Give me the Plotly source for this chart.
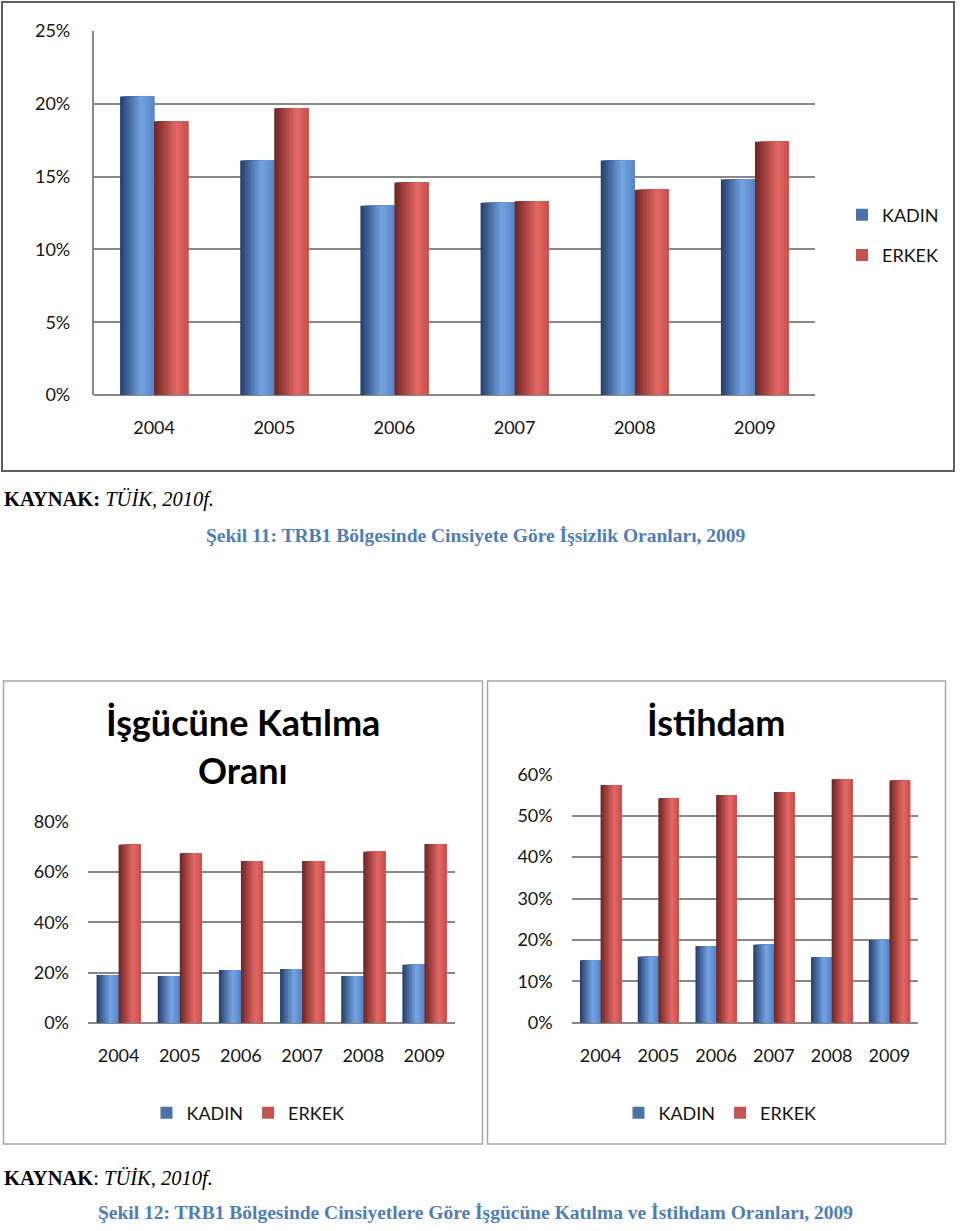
import plotly.graph_objects as go

# ---------------- data ----------------
years = ["2004", "2005", "2006", "2007", "2008", "2009"]

# Şekil 11: İşsizlik oranları (%)
issizlik_kadin = [20.5, 16.1, 13.0, 13.2, 16.1, 14.8]
issizlik_erkek = [18.8, 19.7, 14.6, 13.3, 14.1, 17.4]

# Şekil 12: İşgücüne katılma oranı (%)
katilma_kadin = [19.1, 18.7, 21.1, 21.5, 18.7, 23.1]
katilma_erkek = [70.8, 67.5, 64.4, 64.4, 68.1, 71.1]

# Şekil 12: İstihdam oranı (%)
istihdam_kadin = [15.1, 15.9, 18.5, 18.8, 15.8, 20.0]
istihdam_erkek = [57.4, 54.2, 55.0, 55.7, 58.8, 58.5]

top_ticks = [0, 5, 10, 15, 20, 25]
katilma_ticks = [0, 20, 40, 60, 80]
istihdam_ticks = [0, 10, 20, 30, 40, 50, 60]

# ---------------- style helpers ----------------
W, H = 960, 1231


def px(x):
    return x / W


def py(y):
    return 1 - y / H


BLUE_STOPS = [(0.0, (34, 60, 106)), (0.62, (116, 164, 228)), (1.0, (86, 132, 198))]
RED_STOPS = [(0.0, (110, 36, 34)), (0.66, (230, 104, 102)), (1.0, (196, 80, 78))]


def shade(stops, t):
    for (t0, c0), (t1, c1) in zip(stops[:-1], stops[1:]):
        if t0 <= t <= t1:
            f = (t - t0) / (t1 - t0)
            c = [round(a + (b - a) * f) for a, b in zip(c0, c1)]
            return "rgb(%d,%d,%d)" % tuple(c)
    c = stops[-1][1]
    return "rgb(%d,%d,%d)" % c


FONT = "Lato"
TXT = "#141414"
GRID = "#888888"

fig = go.Figure()


def add_series(values, name, stops, xa, ya, legend, off0, bw, legend_t, n=14):
    legend_i = min(range(n), key=lambda i: abs((i + 0.5) / n - legend_t))
    for i in range(n):
        t = (i + 0.5) / n
        fig.add_trace(
            go.Bar(
                x=years,
                y=values,
                name=name,
                xaxis=xa,
                yaxis=ya,
                offset=off0 + i * bw / n,
                width=bw - i * bw / n,
                marker=dict(color=shade(stops, t), line=dict(width=0)),
                showlegend=(i == legend_i),
                legend=legend,
                legendgroup=name + legend,
                hoverinfo="x+y+name" if i == legend_i else "skip",
            )
        )


# chart 1 (top)
bw1 = 0.283
add_series(issizlik_kadin, "KADIN", BLUE_STOPS, "x", "y", "legend", -bw1, bw1, 0.3)
add_series(issizlik_erkek, "ERKEK", RED_STOPS, "x", "y", "legend", 0.0, bw1, 0.5)

# chart 2 (bottom-left)
bw2 = 0.36
add_series(katilma_kadin, "KADIN", BLUE_STOPS, "x2", "y2", "legend2", -bw2, bw2, 0.3)
add_series(katilma_erkek, "ERKEK", RED_STOPS, "x2", "y2", "legend2", 0.0, bw2, 0.5)

# chart 3 (bottom-right)
bw3 = 0.357
add_series(istihdam_kadin, "KADIN", BLUE_STOPS, "x3", "y3", "legend3", -bw3, bw3, 0.3)
add_series(istihdam_erkek, "ERKEK", RED_STOPS, "x3", "y3", "legend3", 0.0, bw3, 0.5)


def xaxis_style(dom, anchor):
    return dict(
        domain=dom,
        anchor=anchor,
        type="category",
        range=[-0.5, 5.5],
        showgrid=False,
        showline=False,
        ticks="",
        tickfont=dict(family=FONT, size=18, color=TXT),
        ticklabelstandoff=20,
        automargin=False,
        fixedrange=True,
    )


def yaxis_style(dom, anchor, rng, tickvals, gw, showline=False):
    return dict(
        domain=dom,
        anchor=anchor,
        range=rng,
        tickvals=tickvals,
        ticktext=["%d%%" % v for v in tickvals],
        showgrid=True,
        gridcolor=GRID,
        gridwidth=gw,
        zeroline=True,
        zerolinecolor=GRID,
        zerolinewidth=gw,
        showline=showline,
        linecolor=GRID,
        linewidth=gw,
        ticks="",
        tickfont=dict(family=FONT, size=18, color=TXT),
        ticklabelstandoff=18,
        automargin=False,
        fixedrange=True,
    )


fig.update_layout(
    width=W,
    height=H,
    autosize=False,
    margin=dict(l=0, r=0, t=0, b=0, pad=0),
    paper_bgcolor="white",
    plot_bgcolor="white",
    barmode="overlay",
    xaxis=xaxis_style([px(94), px(815)], "y"),
    yaxis=yaxis_style([py(395), py(31)], "x", [0, 25], top_ticks, 2.2, showline=True),
    xaxis2=xaxis_style([px(88), px(455)], "y2"),
    yaxis2=yaxis_style([py(1023), py(821.7)], "x2", [0, 80], katilma_ticks, 1.8),
    xaxis3=xaxis_style([px(571.7), px(918.3)], "y3"),
    yaxis3=yaxis_style([py(1022.7), py(774.3)], "x3", [0, 60], istihdam_ticks, 1.8),
    legend=dict(
        x=px(842), xanchor="left", y=py(235), yanchor="middle",
        orientation="v", font=dict(family=FONT, size=18, color=TXT),
        bgcolor="rgba(0,0,0,0)", tracegroupgap=14, itemwidth=30,
    ),
    legend2=dict(
        x=px(248), xanchor="center", y=py(1113), yanchor="middle",
        orientation="h", font=dict(family=FONT, size=18, color=TXT),
        bgcolor="rgba(0,0,0,0)", itemwidth=30,
    ),
    legend3=dict(
        x=px(720), xanchor="center", y=py(1113), yanchor="middle",
        orientation="h", font=dict(family=FONT, size=18, color=TXT),
        bgcolor="rgba(0,0,0,0)", itemwidth=30,
    ),
)

# frames around charts
fig.add_shape(type="rect", xref="paper", yref="paper",
              x0=px(2), y0=py(2), x1=px(954), y1=py(471),
              line=dict(color="#5e5e5e", width=2), fillcolor="rgba(0,0,0,0)")
fig.add_shape(type="rect", xref="paper", yref="paper",
              x0=px(3.5), y0=py(681), x1=px(482.5), y1=py(1144),
              line=dict(color="#a6a6a6", width=1.5), fillcolor="rgba(0,0,0,0)")
fig.add_shape(type="rect", xref="paper", yref="paper",
              x0=px(487.5), y0=py(681), x1=px(945.5), y1=py(1144),
              line=dict(color="#a6a6a6", width=1.5), fillcolor="rgba(0,0,0,0)")

SERIF = "Liberation Serif"
CAP_BLUE = "#4f7db5"

annotations = [
    dict(text="İşgücüne Katılma", x=px(243), y=py(722), size=36, family=FONT, bold=True, color="#000000", xanchor="center"),
    dict(text="Oranı", x=px(243), y=py(770), size=36, family=FONT, bold=True, color="#000000", xanchor="center"),
    dict(text="İstihdam", x=px(716), y=py(722), size=36, family=FONT, bold=True, color="#000000", xanchor="center"),
    dict(text="<b>KAYNAK:</b> <i>TÜİK, 2010f.</i>", x=px(2), y=py(500), size=20.5, family=SERIF, bold=False, color="#000000", xanchor="left"),
    dict(text="<b>Şekil 11: TRB1 Bölgesinde Cinsiyete Göre İşsizlik Oranları, 2009</b>", x=px(475.5), y=py(535), size=19.5, family=SERIF, bold=False, color=CAP_BLUE, xanchor="center"),
    dict(text="<b>KAYNAK</b>: <i>TÜİK, 2010f.</i>", x=px(2), y=py(1178), size=20.5, family=SERIF, bold=False, color="#000000", xanchor="left"),
    dict(text="<b>Şekil 12: TRB1 Bölgesinde Cinsiyetlere Göre İşgücüne Katılma ve İstihdam Oranları, 2009</b>", x=px(475), y=py(1212), size=19.5, family=SERIF, bold=False, color=CAP_BLUE, xanchor="center"),
]
for a in annotations:
    txt = a["text"]
    if a["bold"]:
        txt = "<b>" + txt + "</b>"
    fig.add_annotation(
        text=txt, x=a["x"], y=a["y"], xref="paper", yref="paper",
        xanchor=a["xanchor"], yanchor="middle", showarrow=False,
        font=dict(family=a["family"], size=a["size"], color=a["color"]),
    )

fig.write_html(
    "out.html",
    config={"displayModeBar": False},
    post_script="document.body.style.margin='0';document.body.style.overflow='hidden';",
)
